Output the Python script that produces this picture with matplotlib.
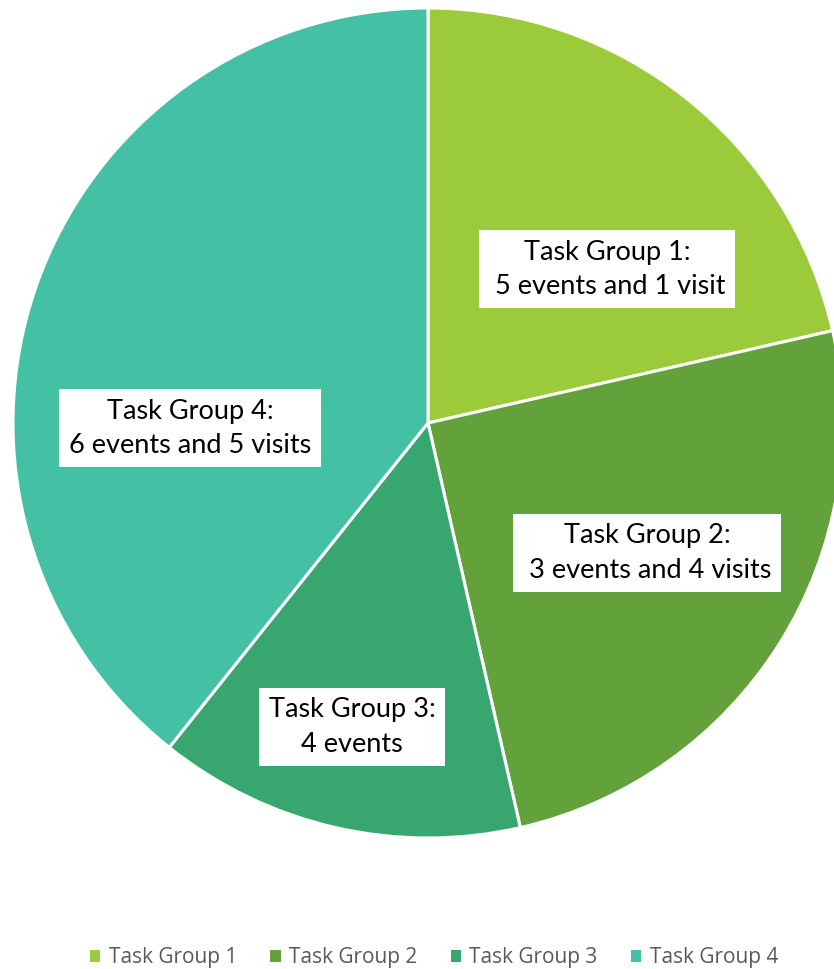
import matplotlib.pyplot as plt
from matplotlib.patches import Patch

# data
groups = ["Task Group 1", "Task Group 2", "Task Group 3", "Task Group 4"]
events = [5, 3, 4, 6]
visits = [1, 4, 0, 5]
values = [e + v for e, v in zip(events, visits)]
labels = ["Task Group 1:\n 5 events and 1 visit",
          "Task Group 2:\n 3 events and 4 visits",
          "Task Group 3:\n4 events",
          "Task Group 4:\n6 events and 5 visits"]
colors = ["#9BCB3B", "#63A23A", "#38A66F", "#44C1A4"]

W, H = 834, 969
fig = plt.figure(figsize=(W / 100, H / 100), dpi=100)
ax = fig.add_axes([0, 0, 1, 1])

cx, cy, r = 428, H - 423, 415
ax.pie(values, colors=colors, startangle=90, counterclock=False,
       center=(cx, cy), radius=r, frame=True,
       wedgeprops=dict(edgecolor="white", linewidth=2.2))
ax.set_xlim(0, W)
ax.set_ylim(0, H)
ax.set_aspect("equal")
ax.axis("off")

# label boxes (pixel centres)
label_pos = [(607, 269), (647, 553), (352, 727), (190, 428)]
for lab, (x, y) in zip(labels, label_pos):
    ax.text(x, H - y, lab, ha="center", va="center", fontsize=19.5,
            family="Lato", color="black", linespacing=1.45,
            bbox=dict(boxstyle="square,pad=0.35", fc="white", ec="none"))

handles = [Patch(facecolor=c, edgecolor="none") for c in colors]
fig.legend(handles, groups, loc="center", bbox_to_anchor=(434 / W, 1 - 958 / H),
           ncol=4, frameon=False, handlelength=0.5, handleheight=0.5,
           handletextpad=0.4, columnspacing=1.6, labelcolor="#595959",
           prop=dict(family="Open Sans", size=15))

fig.savefig("out.png", dpi=100)
